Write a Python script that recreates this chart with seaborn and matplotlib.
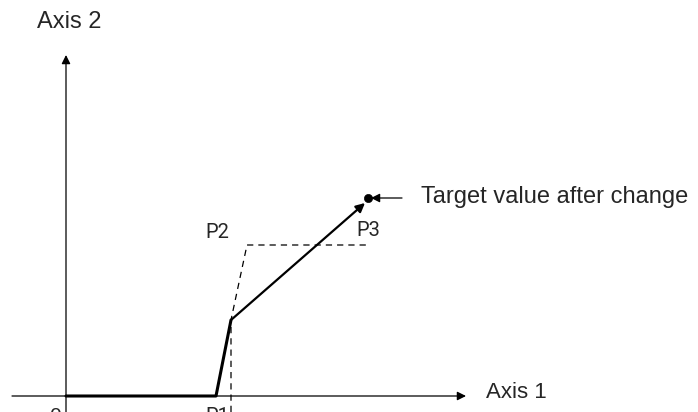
import matplotlib
matplotlib.use("Agg")
import matplotlib.pyplot as plt
import seaborn as sns
import pandas as pd

sns.set_theme(style="white")
plt.rcParams["font.family"] = ["Liberation Sans", "DejaVu Sans"]

# --- schematic data (axis units, origin where the two axes cross) ---
path_x = [0, 150, 165, 299]          # actual path: 0 -> P1 -> knee -> target
path_y = [0, 0, 76, 193]
ref_x = [165, 165, 181, 302]         # dashed reference: P1 -> P2 -> P3
ref_y = [-16, 76, 151, 151]
target = (302, 198)
target_arrow_from = (336, 198)

x_axis = [-54, 400]
y_axis = [-16, 341]

point_labels = ["0", "P1", "P2", "P3"]
label_x = [-11, 151, 151, 302]
label_y = [-11, -11, 164, 166]

fig = plt.figure(figsize=(6.98, 4.12), dpi=100)
ax = fig.add_axes([0, 0, 1, 1])
ax.set_xlim(-66, 632)
ax.set_ylim(-16, 396)
ax.axis("off")

arrow_kw = dict(arrowstyle="-|>", color="black", lw=0.9, mutation_scale=13,
                shrinkA=0, shrinkB=0)

# axes with arrowheads
ax.annotate("", xy=(x_axis[1], 0), xytext=(x_axis[0], 0), arrowprops=arrow_kw)
ax.annotate("", xy=(0, y_axis[1]), xytext=(0, y_axis[0]), arrowprops=arrow_kw)

# dashed reference path
ref = pd.DataFrame({"x": ref_x, "y": ref_y})
sns.lineplot(data=ref, x="x", y="y", sort=False, estimator=None, ax=ax,
             color="black", lw=0.9, linestyle=(0, (5, 4)))

# actual path
path = pd.DataFrame({"x": path_x[:-1], "y": path_y[:-1]})
sns.lineplot(data=path, x="x", y="y", sort=False, estimator=None, ax=ax,
             color="black", lw=2.2)
ax.annotate("", xy=(path_x[-1], path_y[-1]), xytext=(path_x[-2], path_y[-2]),
            arrowprops=dict(arrow_kw, lw=1.6))

# target point
sns.scatterplot(x=[target[0]], y=[target[1]], ax=ax, color="black", s=35,
                edgecolor="black", zorder=5)
ax.annotate("", xy=(target[0] + 3, target[1]), xytext=target_arrow_from,
            arrowprops=arrow_kw)

# labels (narrow-looking font for the point names)
narrow = ["Roboto", "DejaVu Sans"]
for t, lx, ly in zip(point_labels, label_x, label_y):
    if t == "0":
        ax.text(lx, ly, t, ha="center", va="top", fontsize=15)
    elif t == "P1":
        ax.text(lx, ly, t, ha="center", va="top", fontsize=14.5, family=narrow)
    else:
        ax.text(lx, ly, t, ha="center", va="center", fontsize=14.5, family=narrow)

ax.text(355, 199, "Target value after change", ha="left", va="center", fontsize=17)
ax.text(420, 3, "Axis 1", ha="left", va="center", fontsize=16)
ax.text(-29, 374, "Axis 2", ha="left", va="center", fontsize=17)

fig.savefig("out.png", dpi=100)
